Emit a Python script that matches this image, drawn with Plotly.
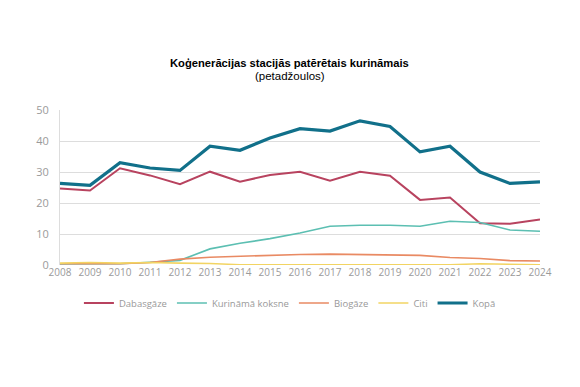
import plotly.graph_objects as go

years = list(range(2008, 2025))
dabasgaze = [24.7, 24.0, 31.2, 28.9, 26.1, 30.1, 26.9, 29.0, 30.1, 27.2, 30.1, 28.8, 21.0, 21.8, 13.5, 13.3, 14.7]
koksne = [0.3, 0.3, 0.4, 0.9, 1.5, 5.2, 7.0, 8.5, 10.3, 12.5, 12.8, 12.8, 12.5, 14.1, 13.7, 11.3, 10.9]
biogaze = [0.4, 0.4, 0.4, 0.8, 1.9, 2.5, 2.8, 3.3, 3.4, 3.5, 3.3, 3.1, 3.1, 2.4, 2.1, 1.4, 1.3]
citi = [0.6, 0.8, 0.6, 0.8, 0.6, 0.5, 0.1, 0.1, 0.1, 0.1, 0.2, 0.1, 0.1, 0.1, 0.4, 0.3, 0.1]
kopa = [26.3, 25.7, 33.0, 31.3, 30.5, 38.3, 37.0, 41.0, 44.0, 43.2, 46.5, 44.7, 36.5, 38.3, 30.0, 26.3, 26.8]

series = [
    ("Dabasgāze", dabasgaze, "#b8435f", 2),
    ("Kurināmā koksne", koksne, "#5cbfb2", 1.6),
    ("Biogāze", biogaze, "#e98a63", 1.6),
    ("Citi", citi, "#f2d463", 1.6),
    ("Kopā", kopa, "#11708a", 3.2),
]

fig = go.Figure()
for name, vals, color, w in series:
    fig.add_trace(go.Scatter(x=years, y=vals, name=name, mode="lines",
                             line=dict(color=color, width=w)))

fig.update_layout(
    width=572, height=379,
    paper_bgcolor="white", plot_bgcolor="white",
    margin=dict(l=52, r=40, t=102, b=122),
    font=dict(family="Open Sans, Arial", color="#999999", size=10),
    annotations=[
        dict(text="<b>Koģenerācijas stacijās patērētais kurināmais</b>",
             xref="paper", yref="paper", x=0.479, y=1.303,
             xanchor="center", yanchor="middle", showarrow=False,
             font=dict(family="Liberation Sans, Arial", size=11.2, color="#000000")),
        dict(text="(petadžoulos)",
             xref="paper", yref="paper", x=0.479, y=1.219,
             xanchor="center", yanchor="middle", showarrow=False,
             font=dict(family="Liberation Sans, Arial", size=11.5, color="#000000")),
    ],
    xaxis=dict(
        tickmode="array", tickvals=years, ticktext=[str(y) for y in years],
        range=[2008, 2024], showgrid=False, zeroline=False,
        ticks="", tickfont=dict(size=10, color="#9a9a9a"),
    ),
    yaxis=dict(
        range=[0, 50], tickvals=[0, 10, 20, 30, 40, 50],
        showgrid=True, gridcolor="#dddddd", gridwidth=1,
        zeroline=False, showline=True, linecolor="#dddddd",
        tickfont=dict(size=11, color="#9a9a9a"), ticklabelstandoff=8,
    ),
    legend=dict(
        orientation="h", x=0.479, xanchor="center", y=-0.245, yanchor="middle",
        font=dict(size=9.5, color="#999999"), itemwidth=30, tracegroupgap=0,
    ),
)

fig.write_html("out.html")
